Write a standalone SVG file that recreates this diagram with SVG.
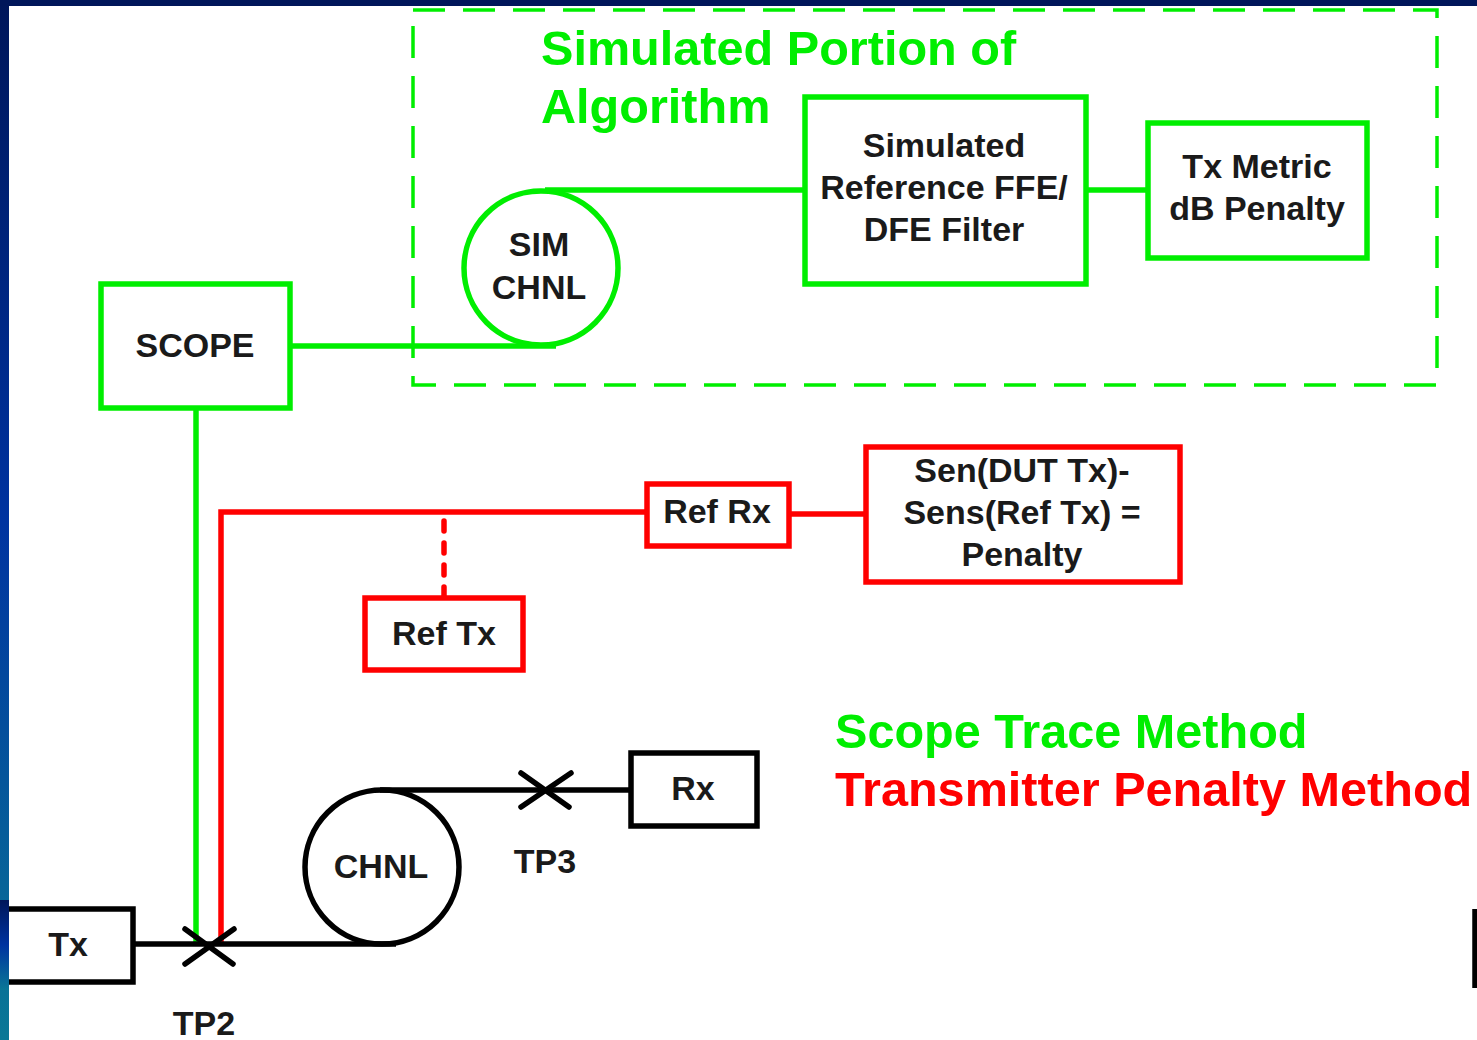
<svg xmlns="http://www.w3.org/2000/svg" width="1477" height="1040" viewBox="0 0 1477 1040">
  <defs>
    <linearGradient id="edgeBlue" x1="0" y1="0" x2="0" y2="1">
      <stop offset="0" stop-color="#00165a"/>
      <stop offset="0.5" stop-color="#0033a0"/>
      <stop offset="1" stop-color="#0a7896"/>
    </linearGradient>
    <style>
      .lbl { font-family: "Liberation Sans", Arial, sans-serif; font-weight: bold; font-size: 34px; fill: #1a1a1a; text-anchor: middle; }
      .big { font-family: "Liberation Sans", Arial, sans-serif; font-weight: bold; font-size: 48.6px; }
      .g { stroke: #00ee00; fill: none; stroke-width: 5.5; }
      .r { stroke: #ff0000; fill: none; stroke-width: 5.5; }
      .k { stroke: #000000; fill: none; stroke-width: 5.5; }
      .box { fill: #ffffff; }
    </style>
  </defs>

  <!-- page and frame -->
  <rect x="0" y="0" width="1477" height="1040" fill="#ffffff"/>
  <rect x="0" y="0" width="9" height="1040" fill="url(#edgeBlue)"/>
  <rect x="0" y="0" width="1477" height="6" fill="#00165a"/>

  <!-- simulated portion region -->
  <g id="sim-region">
    <rect x="413" y="10" width="1024" height="375" fill="none" stroke="#00ee00" stroke-width="3.5" stroke-dasharray="32 18"/>
    <text class="big" x="541" y="65" fill="#00ee00">Simulated Portion of</text>
    <text class="big" x="541" y="123" fill="#00ee00">Algorithm</text>
  </g>

  <!-- connectors -->
  <g id="connectors" stroke-linecap="butt">
    <!-- scope path -->
    <line class="g" x1="290" y1="346" x2="556" y2="346"/>
    <line class="g" x1="545" y1="190" x2="805" y2="190"/>
    <line class="g" x1="1086" y1="190" x2="1148" y2="190"/>
    <line class="g" x1="196" y1="408" x2="196" y2="944"/>
    <!-- penalty path -->
    <polyline class="r" points="221,944 221,512 647,512"/>
    <line class="r" x1="789" y1="514" x2="866" y2="514"/>
    <line class="r" x1="444" y1="521" x2="444" y2="598" stroke-dasharray="10 12" stroke-linecap="round"/>
    <!-- physical link -->
    <line class="k" x1="133" y1="944" x2="396" y2="944"/>
    <line class="k" x1="380" y1="790" x2="631" y2="790"/>
    <!-- test points -->
    <g id="tp2-mark">
      <line class="k" x1="185" y1="929" x2="233" y2="964" stroke-linecap="round"/>
      <line class="k" x1="185" y1="964" x2="234" y2="929" stroke-linecap="round"/>
    </g>
    <g id="tp3-mark">
      <line class="k" x1="521" y1="773" x2="569" y2="807" stroke-linecap="round"/>
      <line class="k" x1="521" y1="807" x2="571" y2="773" stroke-linecap="round"/>
    </g>
    <line class="k" x1="1475" y1="909" x2="1475" y2="988" stroke-width="4"/>
  </g>

  <g id="scope">
    <rect class="g box" x="101" y="284" width="189" height="124"/>
    <text class="lbl" x="195" y="357">SCOPE</text>
  </g>

  <g id="sim-chnl">
    <circle class="g" cx="541" cy="268" r="77" fill="#ffffff"/>
    <text class="lbl" x="539" y="256">SIM</text>
    <text class="lbl" x="539" y="299">CHNL</text>
  </g>

  <g id="ref-filter">
    <rect class="g box" x="805" y="97" width="281" height="187"/>
    <text class="lbl" x="944" y="157">Simulated</text>
    <text class="lbl" x="944" y="199">Reference FFE/</text>
    <text class="lbl" x="944" y="241">DFE Filter</text>
  </g>

  <g id="tx-metric">
    <rect class="g box" x="1148" y="123" width="219" height="135"/>
    <text class="lbl" x="1257" y="178">Tx Metric</text>
    <text class="lbl" x="1257" y="220">dB Penalty</text>
  </g>

  <g id="ref-rx">
    <rect class="r box" x="647" y="484" width="142" height="62"/>
    <text class="lbl" x="717" y="523">Ref Rx</text>
  </g>

  <g id="penalty">
    <rect class="r box" x="866" y="447" width="314" height="135"/>
    <text class="lbl" x="1022" y="482">Sen(DUT Tx)-</text>
    <text class="lbl" x="1022" y="524">Sens(Ref Tx) =</text>
    <text class="lbl" x="1022" y="566">Penalty</text>
  </g>

  <g id="ref-tx">
    <rect class="r box" x="365" y="598" width="158" height="72"/>
    <text class="lbl" x="444" y="645">Ref Tx</text>
  </g>

  <g id="tx">
    <rect class="k box" x="6" y="909" width="127" height="73"/>
    <text class="lbl" x="68" y="956">Tx</text>
  </g>
  <rect x="0" y="900" width="9" height="90" fill="url(#edgeBlue)"/>

  <g id="chnl">
    <circle class="k" cx="382" cy="867" r="77" fill="#ffffff"/>
    <text class="lbl" x="381" y="878">CHNL</text>
  </g>

  <g id="rx">
    <rect class="k box" x="631" y="753" width="126" height="73"/>
    <text class="lbl" x="693" y="800">Rx</text>
  </g>

  <g id="tp-labels">
    <text class="lbl" x="204" y="1035">TP2</text>
    <text class="lbl" x="545" y="873">TP3</text>
  </g>

  <g id="legend">
    <text class="big" x="835" y="748" fill="#00ee00">Scope Trace Method</text>
    <text class="big" x="835" y="806" fill="#ff0000">Transmitter Penalty Method</text>
  </g>
</svg>
